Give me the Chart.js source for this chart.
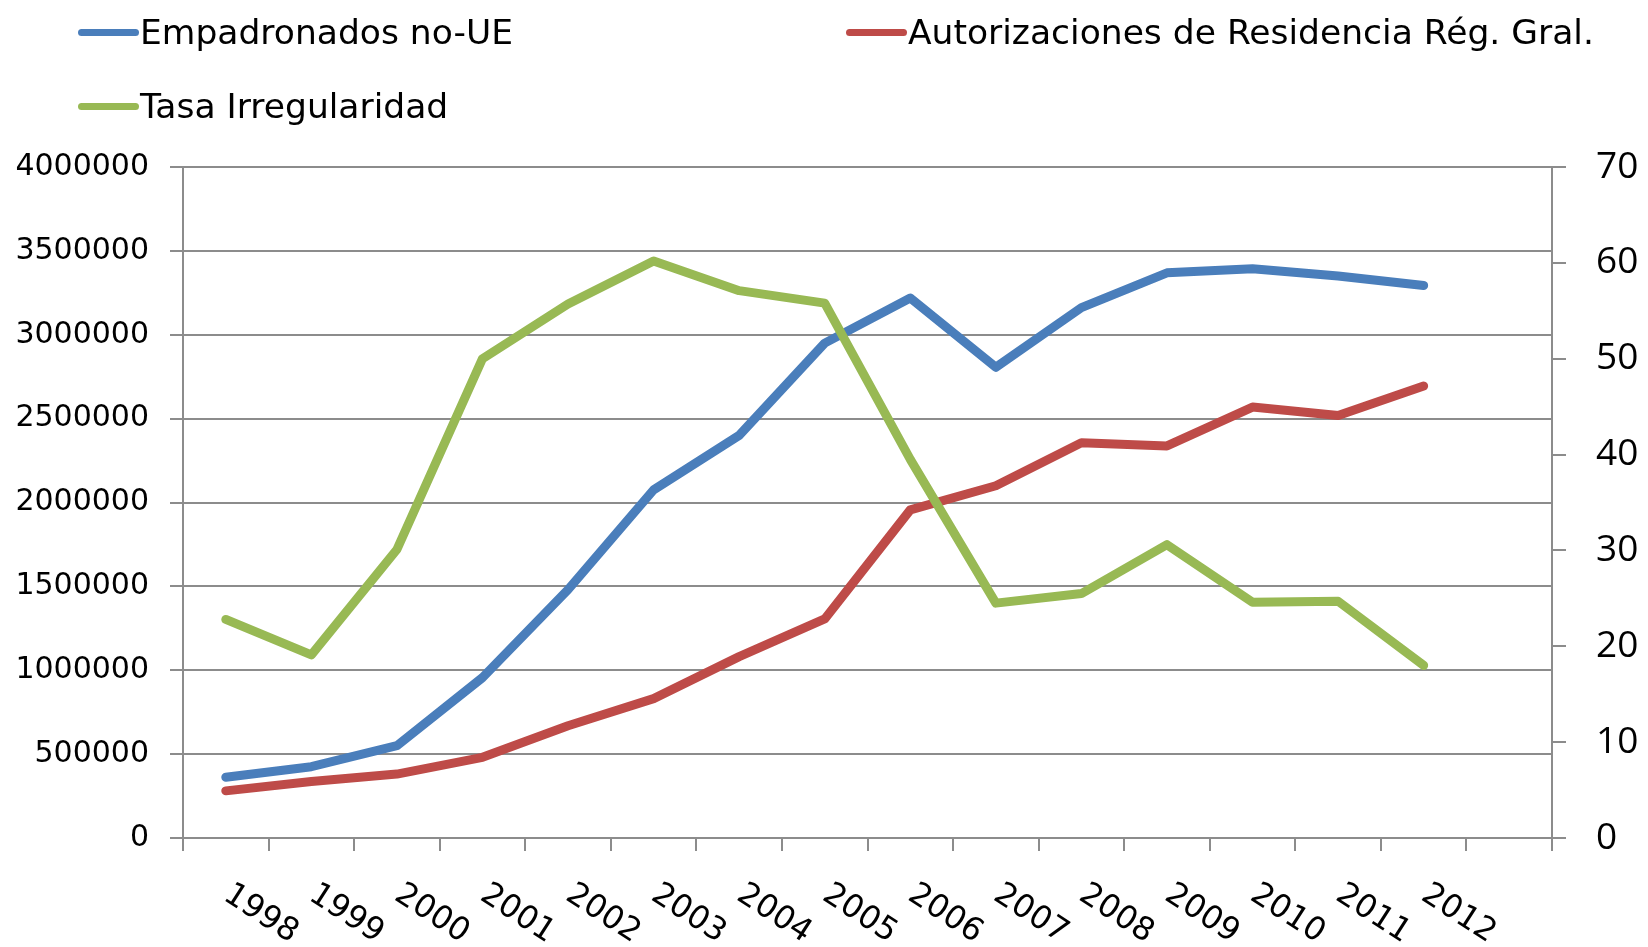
<!DOCTYPE html>
<html>
<head>
<meta charset="utf-8">
<script src="https://cdn.jsdelivr.net/npm/chart.js@4"></script>
<style>
html,body{margin:0;padding:0;background:#fff;}
#wrap{position:relative;width:1648px;height:947px;overflow:hidden;}
#c{position:absolute;left:0;top:0;}
.lg{position:absolute;height:40px;display:flex;align-items:center;font-family:"DejaVu Sans";font-size:34.5px;color:#000;white-space:nowrap;line-height:1;}
.lg .sw{display:inline-block;width:61px;height:7px;border-radius:4px;margin-right:1px;}
</style>
</head>
<body>
<div id="wrap">
<canvas id="c" width="1648" height="947"></canvas>
</div>
<script>
// ---- data ----
const years = ['1998','1999','2000','2001','2002','2003','2004','2005','2006','2007','2008','2009','2010','2011','2012',''];
const empadronados = [362000, 425000, 550000, 956000, 1481000, 2075000, 2400000, 2950000, 3219000, 2806000, 3162000, 3369000, 3394000, 3350000, 3294000];
const autorizaciones = [281000, 337000, 381000, 481000, 669000, 831000, 1081000, 1306000, 1956000, 2100000, 2356000, 2337000, 2569000, 2519000, 2694000];
const tasa = [22.8, 19.1, 30.1, 50.0, 55.7, 60.2, 57.1, 55.8, 39.5, 24.5, 25.5, 30.6, 24.6, 24.7, 18.0];
const seriesNames = ['Empadronados no-UE', 'Autorizaciones de Residencia Rég. Gral.', 'Tasa Irregularidad'];
const seriesColors = ['#4A7EBB', '#BE4B48', '#98B954'];
const leftAxis = {min: 0, max: 4000000, step: 500000};
const rightAxis = {min: 0, max: 70, step: 10};

const GRID = '#8C8C8C';

// ---- HTML legend ----
const legendPos = [{left: 78, top: 12}, {left: 846, top: 12}, {left: 78, top: 86}];
const wrap = document.getElementById('wrap');
seriesNames.forEach((name, i) => {
  const d = document.createElement('div');
  d.className = 'lg';
  d.style.left = legendPos[i].left + 'px';
  d.style.top = legendPos[i].top + 'px';
  const sw = document.createElement('span');
  sw.className = 'sw';
  sw.style.background = seriesColors[i];
  const t = document.createElement('span');
  t.textContent = name;
  d.appendChild(sw); d.appendChild(t);
  wrap.appendChild(d);
});

const lineStyle = {borderWidth: 9, pointRadius: 0, pointHoverRadius: 0, tension: 0, borderCapStyle: 'round', borderJoinStyle: 'round', fill: false};

new Chart(document.getElementById('c'), {
  type: 'line',
  data: {
    labels: years,
    datasets: [
      Object.assign({label: seriesNames[0], data: empadronados, borderColor: seriesColors[0], backgroundColor: seriesColors[0], yAxisID: 'y', order: 3}, lineStyle),
      Object.assign({label: seriesNames[1], data: autorizaciones, borderColor: seriesColors[1], backgroundColor: seriesColors[1], yAxisID: 'y', order: 2}, lineStyle),
      Object.assign({label: seriesNames[2], data: tasa, borderColor: seriesColors[2], backgroundColor: seriesColors[2], yAxisID: 'y1', order: 1}, lineStyle)
    ]
  },
  options: {
    responsive: false,
    animation: false,
    layout: {padding: {top: 167, left: 0, right: 0, bottom: 0}},
    plugins: {legend: {display: false}, tooltip: {enabled: false}},
    scales: {
      x: {
        type: 'category',
        offset: true,
        grid: {offset: true, drawOnChartArea: false, drawTicks: true, tickLength: 13, color: GRID, lineWidth: 2},
        border: {color: GRID, width: 2},
        ticks: {autoSkip: false, minRotation: -33, maxRotation: -33, padding: 69, labelOffset: 69,
                font: {family: 'DejaVu Sans', size: 32}, color: '#000'},
        afterFit(s) { s.height = 109; s.paddingLeft = 0; s.paddingRight = 0; }
      },
      y: {
        position: 'left',
        min: leftAxis.min, max: leftAxis.max,
        ticks: {stepSize: leftAxis.step, padding: 21, font: {family: 'DejaVu Sans', size: 30}, color: '#000',
                callback: v => String(v)},
        grid: {color: GRID, lineWidth: 2, tickLength: 13},
        border: {color: GRID, width: 2},
        afterFit(s) { s.width = 183; }
      },
      y1: {
        position: 'right',
        min: rightAxis.min, max: rightAxis.max,
        ticks: {stepSize: rightAxis.step, padding: 30, font: {family: 'Open Sans', size: 37}, color: '#000'},
        grid: {drawOnChartArea: false, tickLength: 14, color: GRID, lineWidth: 2},
        border: {color: GRID, width: 2},
        afterFit(s) { s.width = 96; }
      }
    }
  }
});
</script>
</body>
</html>
